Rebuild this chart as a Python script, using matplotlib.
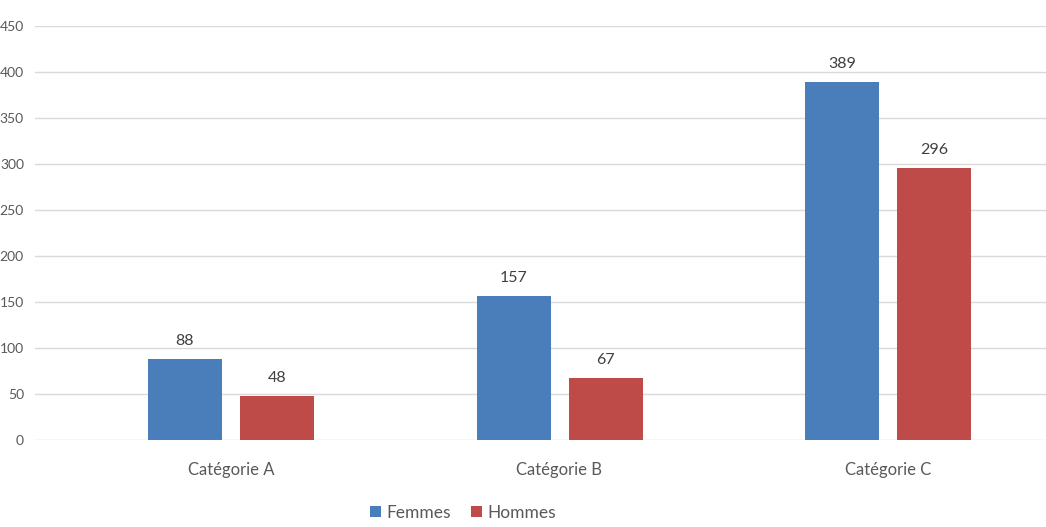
import matplotlib
matplotlib.use('Agg')
import matplotlib.pyplot as plt
import numpy as np

categories = ['Catégorie A', 'Catégorie B', 'Catégorie C']
femmes = [88, 157, 389]
hommes = [48, 67, 296]
series_names = ['Femmes', 'Hommes']
yticks = [0, 50, 100, 150, 200, 250, 300, 350, 400, 450]

plt.rcParams['font.family'] = ['Lato', 'DejaVu Sans']

col_f = '#4a7ebb'
col_h = '#be4b48'
txt = '#595959'

fig = plt.figure(figsize=(10.46, 5.27), dpi=100)
ax = fig.add_axes([35/1046, 87/527, 1 - 35/1046, 414/527])

x = np.arange(len(categories))
w = 74/328.5
gap = 18/328.5
b1 = ax.bar(x - (w + gap)/2, femmes, width=w, color=col_f, label=series_names[0], zorder=3)
b2 = ax.bar(x + (w + gap)/2, hommes, width=w, color=col_h, label=series_names[1], zorder=3)

for bars, vals in ((b1, femmes), (b2, hommes)):
    for r, v in zip(bars, vals):
        ax.text(r.get_x() + r.get_width()/2, v + 12, str(v), ha='center', va='bottom',
                fontsize=11.5, color='#404040')

ax.set_xlim((35-231)/328.5, (1046-231)/328.5)
ax.set_ylim(0, 450)
ax.set_yticks(yticks)
ax.set_xticks(x)
ax.set_xticklabels(categories)
ax.grid(axis='y', color='#d9d9d9', linewidth=1, zorder=0)
for s in ax.spines.values():
    s.set_visible(False)
ax.tick_params(axis='both', length=0, labelsize=12, labelcolor=txt)
ax.tick_params(axis='y', pad=8, labelsize=10)
ax.tick_params(axis='x', pad=16)

ax.legend(loc='center', bbox_to_anchor=(463/1046, 14/527), bbox_transform=fig.transFigure,
          ncol=2, frameon=False, fontsize=12.5, handlelength=0.6, handleheight=0.6,
          handletextpad=0.3, columnspacing=1.2, labelcolor=txt)

fig.savefig('out.png', dpi=100)
